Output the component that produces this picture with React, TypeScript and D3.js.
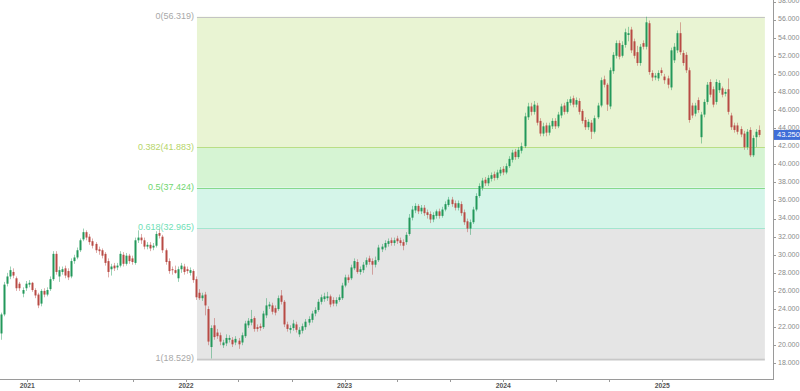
import React from "react";
import * as d3 from "d3";

// ---- data (weekly candles) ----
const startDate = new Date(2020, 10, 2);
const opens = [21.3,23.4,26.8,27.6,28.1,27.4,26.8,25.7,26.3,26.7,26.9,26.1,25.6,24.6,26.0,25.6,26.2,27.3,30.1,27.6,28.1,28.5,28.2,27.6,29.3,29.7,30.5,31.7,32.5,32.0,31.5,31.2,30.6,30.5,30.1,29.3,28.4,28.8,28.6,28.8,30.0,29.0,29.9,29.6,29.1,31.6,31.9,31.6,30.9,31.1,30.8,31.0,32.4,32.0,30.5,29.3,28.4,28.3,27.4,28.4,28.7,28.4,28.0,28.2,27.3,25.8,25.2,25.6,24.0,19.8,22.2,21.4,21.1,20.0,20.2,20.6,20.6,20.3,20.5,20.3,21.0,22.2,22.5,23.0,22.0,22.1,22.0,23.3,24.3,24.4,24.1,24.0,25.5,24.8,22.3,21.7,21.9,22.3,21.2,21.6,22.0,22.5,22.8,23.5,23.9,24.8,25.1,25.2,25.4,25.0,24.6,25.0,25.2,26.6,27.5,27.4,28.5,29.2,28.1,28.3,28.9,29.6,29.3,28.9,29.4,30.6,30.8,31.2,31.6,31.3,31.8,31.6,31.4,31.4,32.3,34.1,34.9,35.4,34.8,35.2,34.7,34.5,33.9,34.3,34.8,34.3,35.0,35.5,36.1,35.7,35.2,35.6,34.7,33.7,32.9,33.6,35.0,36.5,37.4,38.3,37.9,38.4,38.9,38.5,39.0,39.5,39.1,39.8,40.5,41.4,40.8,41.5,42.0,45.2,46.4,45.8,46.5,44.8,43.4,44.3,43.5,44.2,44.8,44.2,45.4,46.5,45.8,46.8,47.3,46.6,47.0,45.9,44.9,44.1,44.6,43.6,45.2,46.5,49.4,48.8,46.4,50.3,52.0,53.4,52.0,53.2,54.3,54.9,53.6,52.4,51.2,53.4,53.0,55.6,50.1,49.6,49.5,50.4,49.7,49.5,48.5,51.5,52.6,54.5,52.3,52.1,50.4,46.5,45.6,47.1,43.0,45.5,46.9,49.1,48.3,46.9,48.2,48.4,47.8,48.3,45.4,44.3,44.3,43.9,43.4,41.9,43.8,41.0,43.0,43.8];
const highs = [23.6,27.0,28.0,28.7,28.5,27.6,27.0,26.4,27.1,27.2,27.0,26.3,25.8,26.2,26.3,26.4,27.6,30.4,30.4,28.7,28.7,28.8,28.5,29.6,30.0,30.8,31.8,32.9,32.7,32.3,31.8,31.4,30.9,30.7,30.3,29.6,29.0,29.1,29.1,30.4,30.3,30.2,30.1,29.9,31.9,32.7,32.3,31.9,31.4,31.4,31.3,32.6,32.8,32.2,30.7,29.6,28.7,28.8,28.7,29.1,29.0,28.7,28.6,28.4,27.6,26.2,25.8,25.9,24.3,22.2,23.0,21.8,21.4,20.6,21.2,21.1,20.9,21.0,20.8,21.4,22.7,23.0,23.9,23.2,22.3,22.4,23.8,25.2,24.8,24.7,24.4,25.5,26.1,25.0,22.6,22.2,22.8,22.6,22.0,22.4,22.9,23.2,23.8,24.2,25.1,25.6,25.8,25.9,25.6,25.3,25.3,25.6,26.9,27.8,27.8,28.9,29.6,29.5,28.7,29.2,29.7,29.9,29.6,29.8,31.1,31.2,31.6,31.8,31.9,31.9,32.1,31.9,31.7,32.5,34.5,35.4,35.7,35.6,35.5,35.5,35.0,34.8,34.7,35.0,35.1,35.3,35.9,36.4,36.4,36.0,36.0,35.9,35.0,34.0,33.9,35.3,36.8,37.9,38.5,38.6,38.8,39.1,39.2,39.4,39.7,39.8,40.1,40.9,41.6,41.7,41.9,42.4,45.7,46.8,46.8,47.0,46.8,45.1,44.6,44.6,44.6,45.1,45.1,45.8,46.7,46.8,47.2,47.5,47.6,47.4,47.3,46.1,45.2,45.0,44.9,45.4,46.8,49.6,49.8,49.0,50.7,52.4,53.7,53.7,53.6,55.0,55.2,55.2,53.9,53.1,53.3,53.7,56.319,55.9,50.4,50.1,50.4,50.7,50.0,49.8,52.9,53.4,54.8,55.7,52.6,52.4,50.7,46.8,46.8,47.4,45.8,47.2,49.1,49.4,48.6,49.4,49.3,48.6,48.3,49.5,45.7,44.6,44.6,44.2,43.7,43.9,44.1,43.2,43.9,44.3];
const lows = [20.6,23.2,26.5,27.3,27.4,26.0,26.0,25.3,26.0,26.4,25.9,25.2,24.1,24.3,25.3,25.4,26.0,27.1,27.8,27.0,27.8,27.4,27.2,27.4,29.0,29.5,30.3,31.5,31.6,31.1,30.7,30.2,30.0,29.6,28.8,27.5,27.7,28.2,28.3,28.6,28.7,28.8,29.0,28.9,28.9,31.3,31.2,30.6,30.6,30.4,30.5,30.8,31.8,30.2,28.9,27.9,27.8,27.9,27.0,28.0,27.8,27.9,27.7,26.9,25.0,25.0,24.9,23.3,20.0,18.529,20.6,20.7,20.0,19.7,19.9,20.3,19.8,20.0,19.6,20.0,20.8,21.9,22.2,21.5,21.5,21.6,21.8,23.0,24.0,23.4,23.3,23.8,24.5,22.0,21.5,21.3,21.6,21.4,20.9,21.3,21.7,22.2,22.5,23.2,23.7,24.5,24.8,24.9,24.2,24.3,24.3,24.8,25.0,26.4,26.9,27.2,28.3,27.9,27.8,28.0,28.6,28.9,27.8,28.6,29.2,30.3,30.5,30.9,31.0,31.0,31.2,31.0,30.5,31.1,32.1,33.8,34.6,34.5,34.5,34.3,34.0,33.5,33.6,34.0,34.0,34.1,34.8,35.3,35.3,34.9,34.9,34.3,33.3,32.5,32.2,33.4,34.8,36.3,37.1,37.6,37.6,38.1,38.2,38.3,38.7,38.8,38.9,39.6,40.2,40.5,40.6,41.2,41.8,44.9,45.4,45.5,44.3,43.1,43.1,43.1,43.2,43.9,43.9,44.0,45.1,45.5,45.6,46.5,46.3,46.3,45.5,44.5,43.8,43.8,42.8,43.4,45.0,46.3,48.5,45.9,46.1,50.0,51.7,51.6,51.8,52.9,53.6,52.3,51.7,50.9,50.9,52.7,52.7,49.9,49.2,49.3,49.2,49.8,48.9,48.4,48.2,51.2,52.3,52.1,50.9,50.1,44.6,45.1,45.3,45.7,42.3,45.2,46.6,47.4,46.3,46.6,47.9,47.4,47.5,45.5,43.8,43.5,43.3,43.0,41.6,41.6,40.8,40.8,41.9,43.0];
const closes = [23.4,26.7,27.6,28.3,27.7,26.3,26.3,26.1,26.8,26.9,26.1,25.5,24.4,26.0,25.6,26.1,27.3,30.1,28.1,28.3,28.4,27.7,27.5,29.3,29.7,30.5,31.6,32.5,31.9,31.4,31.0,30.5,30.4,29.9,29.1,28.1,28.7,28.5,28.8,30.1,29.0,29.9,29.3,29.2,31.6,31.9,31.6,30.9,31.1,30.7,31.0,32.3,32.1,30.5,29.2,28.2,28.3,28.0,28.4,28.8,28.1,28.2,28.3,27.2,25.3,25.2,25.5,24.4,20.4,21.9,20.9,21.0,20.4,20.3,20.8,20.8,20.1,20.7,20.1,21.1,22.4,22.7,22.9,21.8,21.8,21.9,23.5,24.4,24.5,23.7,23.6,25.2,24.8,22.3,21.8,21.9,22.4,21.7,21.7,22.1,22.6,22.9,23.5,23.9,24.8,25.3,25.4,25.4,24.5,24.6,25.0,25.3,26.6,27.5,27.2,28.6,29.3,28.1,28.4,28.9,29.4,29.2,28.9,29.4,30.8,30.9,31.3,31.5,31.3,31.6,31.5,31.3,31.0,32.2,34.1,35.0,35.4,34.8,35.2,34.6,34.4,33.9,34.4,34.8,34.3,35.0,35.6,36.1,35.6,35.2,35.7,34.6,33.6,32.9,33.6,35.0,36.5,37.6,38.2,37.9,38.5,38.8,38.5,39.1,39.4,39.1,39.8,40.6,41.3,40.8,41.6,42.0,45.3,46.4,45.8,46.6,44.6,43.4,44.2,43.5,44.3,44.8,44.2,45.5,46.4,45.8,46.9,47.2,46.6,47.1,45.8,44.8,44.1,44.7,43.6,45.1,46.5,49.3,48.8,46.6,50.4,52.1,53.4,51.9,53.2,54.6,54.5,52.6,52.0,51.2,53.0,53.0,55.7,50.2,49.6,49.8,50.1,50.1,49.3,48.8,52.6,53.0,54.5,52.4,51.2,50.4,44.9,45.4,46.5,46.0,45.5,46.9,48.8,47.7,46.6,49.1,49.0,47.7,48.0,45.8,44.1,43.8,43.6,43.3,41.9,43.6,41.0,42.9,43.6,43.25];

const fibRatios = [0, 0.382, 0.5, 0.618, 1];
const fibHigh = 56.319;
const fibLow = 18.529;
const fibStartIndex = 64;
const yTicks = [18, 20, 22, 24, 26, 28, 30, 32, 34, 36, 38, 40, 42, 44, 46, 48, 50, 52, 54, 56, 58];
const lastPrice = 43.25;

// ---- styles ----
const W = 800, H = 391;
const axisX = 773, axisY = 379;
const upColor = "#22985a";
const downColor = "#b84a44";
const fibLineColors = ["#c4c4c4", "#b9de85", "#86d98c", "#a3e6cf", "#c8c8c8"];
const fibLabelColors = ["#a8a8a8", "#b6d56a", "#6fd66f", "#6fe0b6", "#a8a8a8"];
const fibFills = ["#e9f4d3", "#d6f4d3", "#d5f5e9", "#e5e5e5"];
const font = "'Liberation Sans', Arial, sans-serif";

export default function App() {
  const dates = closes.map((_, i) => d3.timeDay.offset(startDate, i * 7));
  const x = d3.scaleTime()
    .domain([new Date(2021, 0, 1), new Date(2025, 0, 1)])
    .range([27.3, 662.3]);
  const y = d3.scaleLinear().domain([18, 56]).range([363.3, 19.6]);

  const fibLeft = x(dates[fibStartIndex]) + 1;
  const fibRight = x(d3.timeDay.offset(dates[dates.length - 1], 14));
  const levels = fibRatios.map(r => ({ r, v: fibHigh - (fibHigh - fibLow) * r }));

  const xTicks = x.ticks(d3.timeMonth.every(4)).filter(d => x(d) <= axisX);

  return (
    <svg width={W} height={H} style={{ position: "absolute", left: 0, top: 0, background: "#fff" }}
      fontFamily={font}>
      {/* fib zones */}
      {levels.slice(0, -1).map((l, i) => (
        <rect key={"z" + i} x={fibLeft} width={fibRight - fibLeft}
          y={y(l.v)} height={y(levels[i + 1].v) - y(l.v)} fill={fibFills[i]} />
      ))}
      {levels.map((l, i) => (
        <g key={"l" + i}>
          <line x1={fibLeft} x2={fibRight} y1={Math.round(y(l.v)) + 0.5} y2={Math.round(y(l.v)) + 0.5}
            stroke={fibLineColors[i]} strokeWidth={i === 4 ? 2 : 1.2} />
          <text x={fibLeft - 3} y={y(l.v)} textAnchor="end" dominantBaseline="middle"
            fontSize={9} fill={fibLabelColors[i]}>{`${l.r}(${l.v.toFixed(3)})`}</text>
        </g>
      ))}
      {/* candles */}
      {closes.map((c, i) => {
        const o = opens[i];
        const up = c >= o;
        const col = up ? upColor : downColor;
        const cx = Math.round(x(dates[i]));
        const top = y(Math.max(o, c));
        const bot = y(Math.min(o, c));
        return (
          <g key={"c" + i}>
            <line x1={cx + 0.5} x2={cx + 0.5} y1={y(Math.max(highs[i], o, c))} y2={y(Math.min(lows[i], o, c))}
              stroke={col} strokeOpacity={0.45} strokeWidth={1} />
            <rect x={cx - 0.5} width={2} y={top} height={Math.max(1, bot - top)} fill={col} />
          </g>
        );
      })}
      {/* right axis */}
      <line x1={axisX + 0.5} x2={axisX + 0.5} y1={0} y2={axisY} stroke="#9a9a9a" />
      {yTicks.map(t => (
        <g key={"yt" + t}>
          <line x1={axisX} x2={axisX + 3} y1={Math.round(y(t)) + 0.5} y2={Math.round(y(t)) + 0.5} stroke="#9a9a9a" />
          <text x={axisX + 5} y={y(t)} dominantBaseline="middle" fontSize={7} fill="#8a8a8a">{t.toFixed(3)}</text>
        </g>
      ))}
      <rect x={axisX + 1} y={y(lastPrice) - 5} width={W - axisX - 1} height={10} fill="#3f6ed8" />
      <text x={axisX + 4} y={y(lastPrice)} dominantBaseline="middle" fontSize={7.5} fill="#fff">{lastPrice.toFixed(3)}</text>
      {/* bottom axis */}
      <line x1={0} x2={axisX + 1} y1={axisY + 0.5} y2={axisY + 0.5} stroke="#9a9a9a" />
      {xTicks.map((d, i) => (
        <g key={"xt" + i}>
          <line x1={Math.round(x(d)) + 0.5} x2={Math.round(x(d)) + 0.5} y1={axisY} y2={axisY + 3} stroke="#9a9a9a" />
          {d.getMonth() === 0 && (
            <text x={x(d)} y={axisY + 7} textAnchor="middle" dominantBaseline="middle" fontSize={6.8}
              fontWeight="bold" fill="#555">{d3.timeFormat("%Y")(d)}</text>
          )}
        </g>
      ))}
    </svg>
  );
}
